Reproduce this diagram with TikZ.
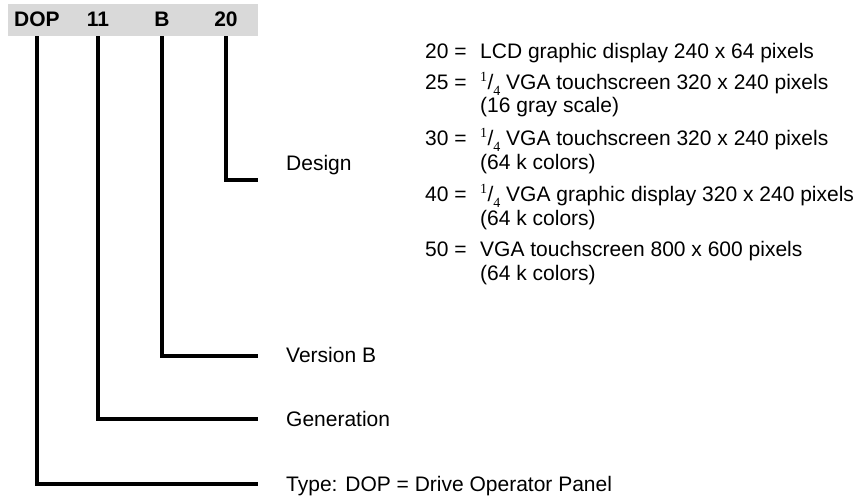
\documentclass[tikz,border=0pt]{standalone}
\usepackage{fontspec}
\setmainfont{Liberation Sans}
\newfontfamily\serifnum{Liberation Serif}
\definecolor{bargray}{RGB}{217,217,217}
\newcommand{\qfrac}{\raisebox{0.36em}{\serifnum\fontsize{14}{14}\selectfont 1}\kern0.3pt/\raisebox{-0.3em}{\serifnum\fontsize{14}{14}\selectfont 4}}
\begin{document}
\begin{tikzpicture}[x=1pt,y=-1pt,
  conn/.style={line width=3.2pt},
  lbl/.style={anchor=base west, inner sep=0pt, font=\fontsize{21}{24}\selectfont},
  hd/.style={anchor=base, inner sep=0pt, font=\fontsize{21}{24}\selectfont\bfseries}]
\useasboundingbox (0,0) rectangle (862,497);
% header bar
\node[fill=bargray, minimum width=250pt, minimum height=32pt, anchor=north west, inner sep=0pt] (bar) at (8,4) {};
\node[hd] (hDOP) at (37,26.5) {DOP};
\node[hd] (hGen) at (98,26.5) {11};
\node[hd] (hVer) at (162,26.5) {B};
\node[hd] (hDes) at (226,26.5) {20};
% connector ends
\coordinate (eDes) at (258,180);
\coordinate (eVer) at (258,356);
\coordinate (eGen) at (258,419);
\coordinate (eTyp) at (258,484);
\draw[conn] (hDes |- bar.south) |- (eDes);
\draw[conn] (hVer |- bar.south) |- (eVer);
\draw[conn] (hGen |- bar.south) |- (eGen);
\draw[conn] (hDOP |- bar.south) |- (eTyp);
% labels
\node[lbl] (lDes) at (286,170.5) {Design};
\node[lbl] (lVer) at (286,362.5) {Version B};
\node[lbl] (lGen) at (286,426.5) {Generation};
\node[lbl] (lTyp) at (286,491.5) {Type: DOP = Drive Operator Panel};
% design list
\node[lbl] (n20) at (425,58.5) {20 =};
\node[lbl] (t20) at (480,58.5) {LCD graphic display 240 x 64 pixels};
\node[lbl] (n25) at (425,89.5) {25 =};
\node[lbl] (t25) at (480,89.5) {\qfrac{} VGA touchscreen 320 x 240 pixels};
\node[lbl] (t25b) at (480,113) {(16 gray scale)};
\node[lbl] (n30) at (425,145.5) {30 =};
\node[lbl] (t30) at (480,145.5) {\qfrac{} VGA touchscreen 320 x 240 pixels};
\node[lbl] (t30b) at (480,169.5) {(64 k colors)};
\node[lbl] (n40) at (425,201.5) {40 =};
\node[lbl] (t40) at (480,201.5) {\qfrac{} VGA graphic display 320 x 240 pixels};
\node[lbl] (t40b) at (480,225.5) {(64 k colors)};
\node[lbl] (n50) at (425,256.5) {50 =};
\node[lbl] (t50) at (480,256.5) {VGA touchscreen 800 x 600 pixels};
\node[lbl] (t50b) at (480,280.5) {(64 k colors)};
\end{tikzpicture}
\end{document}
